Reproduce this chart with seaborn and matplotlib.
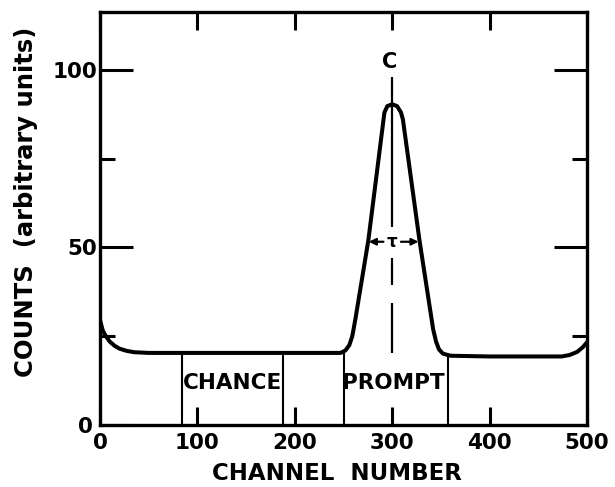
import numpy as np
import pandas as pd
import matplotlib
matplotlib.use("Agg")
import matplotlib.pyplot as plt
import matplotlib.transforms as mtransforms
import seaborn as sns

# Time spectrum: counts per channel
channel = [0, 3, 6, 10, 15, 20, 27, 35, 50, 100, 150, 200, 247, 252, 256, 259, 262,
           275.5, 292, 295, 300, 305, 309, 311, 328, 342, 345, 348, 352, 360,
           400, 450, 474, 482, 490, 496, 500]
counts = [29.5, 26.5, 25.0, 23.5, 22.3, 21.5, 20.9, 20.5, 20.3, 20.3, 20.3, 20.3, 20.3,
          21.0, 22.5, 25.0, 29.5, 52.0, 88.0, 89.8, 90.3, 89.8, 88.0, 86.0, 52.0,
          27.0, 23.5, 21.3, 20.1, 19.5, 19.3, 19.3, 19.3, 19.7, 20.6, 22.0, 23.3]

# Window boundaries: chance window and prompt window
chance_window = [84, 188]
prompt_window = [250, 357]
window_heights = [20.3, 20.3, 20.6, 19.5]

peak_channel = 300
tau_level = 51.6
tau_edges = [276, 327]
# centre marker: solid / dashed pieces (counts)
centre_segments = [(98.0, 55.8), (47.0, 39.4), (34.4, 20.3)]

x_ticks = [0, 100, 200, 300, 400, 500]
y_ticks = [0, 50, 100]
y_minor = [25, 75]

sns.set_theme(style="ticks")
plt.rcParams["font.family"] = ["DejaVu Sans"]
plt.rcParams["font.weight"] = "bold"
plt.rcParams["text.color"] = "black"
plt.rcParams["axes.labelcolor"] = "black"
plt.rcParams["xtick.color"] = "black"
plt.rcParams["ytick.color"] = "black"

fig = plt.figure(figsize=(6.15, 4.87), dpi=100)
ax = fig.add_axes([0.1626, 0.1273, 0.7919, 0.8481])

df = pd.DataFrame({"channel": channel, "counts": counts})
sns.lineplot(data=df, x="channel", y="counts", ax=ax, color="black",
             linewidth=2.9, sort=False, estimator=None)

for xv, h in zip(chance_window + prompt_window, window_heights):
    ax.plot([xv, xv], [0, h], color="black", linewidth=1.5, solid_capstyle="butt")

for top, bottom in centre_segments:
    ax.plot([peak_channel, peak_channel], [bottom, top], color="black",
            linewidth=1.6, solid_capstyle="butt")

# tau width arrows
ax.annotate("", xy=(tau_edges[0], tau_level), xytext=(peak_channel - 9, tau_level),
            arrowprops=dict(arrowstyle="-|>", color="black", lw=1.6,
                            mutation_scale=10, shrinkA=0, shrinkB=0))
ax.annotate("", xy=(tau_edges[1], tau_level), xytext=(peak_channel + 9, tau_level),
            arrowprops=dict(arrowstyle="-|>", color="black", lw=1.6,
                            mutation_scale=10, shrinkA=0, shrinkB=0))
ax.text(peak_channel, tau_level, "τ", ha="center", va="center", fontsize=12,
        fontweight="bold", color="black")

ax.text(297, 102.3, "C", ha="center", va="center", fontsize=15, fontweight="bold",
        color="black")
ax.text(sum(chance_window) / 2, 11.8, "CHANCE", ha="center", va="center",
        fontsize=15.5, fontweight="bold", color="black")
ax.text(sum(prompt_window) / 2 - 2, 11.8, "PROMPT", ha="center", va="center",
        fontsize=15.5, fontweight="bold", color="black")

ax.set_xlim(0, 500)
ax.set_ylim(0, 116.3)
ax.set_xticks(x_ticks)
ax.set_xticklabels([str(v) for v in x_ticks], fontsize=15.5, fontweight="bold")
ax.set_yticks(y_ticks)
ax.set_yticklabels([str(v) for v in y_ticks], fontsize=15.5, fontweight="bold")
ax.set_yticks(y_minor, minor=True)

ax.tick_params(axis="both", which="major", direction="in", length=13, width=2.2,
               top=True, right=True, color="black", labelcolor="black")
ax.tick_params(axis="x", which="major", pad=6)
ax.tick_params(axis="y", which="major", length=24, pad=2)
ax.tick_params(axis="y", which="minor", direction="in", length=11, width=2.2,
               left=True, right=True, color="black")
ax.tick_params(axis="x", which="minor", bottom=False, top=False)

# the y-axis zero sits a little left of the corner, clear of the x-axis zero
ylab0 = ax.get_yticklabels()[0]
ylab0.set_transform(ylab0.get_transform() +
                    mtransforms.ScaledTranslation(-4 / 100, 0, fig.dpi_scale_trans))

for sp in ax.spines.values():
    sp.set_linewidth(2.4)
    sp.set_color("black")
    sp.set_visible(True)

ax.set_xlabel("CHANNEL  NUMBER", fontsize=16.5, fontweight="bold", color="black")
ax.set_ylabel("COUNTS  (arbitrary units)", fontsize=17.5, fontweight="bold",
              color="black")
ax.xaxis.set_label_coords(0.487, -0.09)
ax.yaxis.set_label_coords(-0.127, 0.54)

fig.savefig("out.png", dpi=100, facecolor="white")
